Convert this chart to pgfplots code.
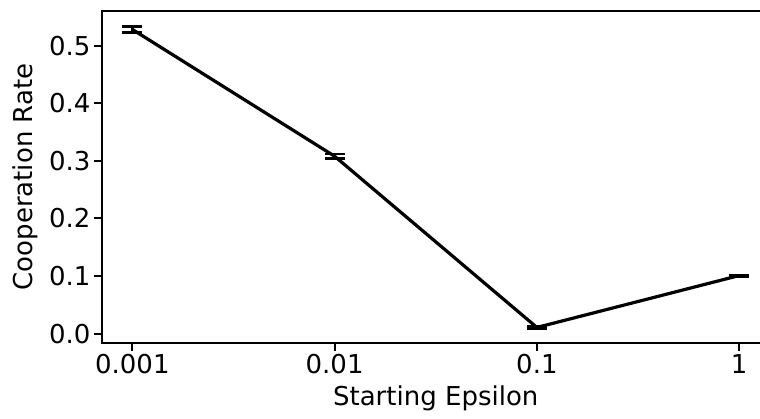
\documentclass[border=0pt]{standalone}
\usepackage{pgfplots}
\pgfplotsset{compat=1.18}
\usepackage{fontspec}
\setmainfont{DejaVu Sans}

\begin{document}
\begin{tikzpicture}
\begin{axis}[
  at={(102bp,76bp)}, anchor=south west,
  scale only axis,
  width=667.5bp, height=332bp,
  xmin=-0.15, xmax=3.15,
  ymin=-0.016, ymax=0.560,
  xtick={0,1,2,3},
  xticklabels={0.001,0.01,0.1,1},
  ytick={0,0.1,0.2,0.3,0.4,0.5},
  yticklabel style={/pgf/number format/.cd, fixed, fixed zerofill, precision=1},
  /pgf/number format/assume math mode=true,
  tick align=outside,
  xtick pos=bottom, ytick pos=left,
  major tick length=8bp,
  tick style={line width=2bp, black},
  axis line style={line width=2bp},
  ticklabel style={font=\fontsize{26bp}{30bp}\selectfont, color=black},
  label style={font=\fontsize{26bp}{30bp}\selectfont, color=black},
  xlabel={Starting Epsilon},
  ylabel={Cooperation Rate},
  xlabel style={yshift=-5bp},
  ylabel style={yshift=4bp},
  clip=false,
]
\addplot[black, line width=3.2bp, line join=round,
  error bars/.cd, y dir=both, y explicit,
  error bar style={line width=2.5bp, black},
  error mark options={rotate=90, mark size=10bp, line width=2.5bp, black}]
  table[x=x, y=y, y error=e] {
x y e
0 0.528 0.005
1 0.308 0.004
2 0.011 0.002
3 0.101 0.0012
};
\end{axis}
\pgfresetboundingbox
\path[use as bounding box] (0,0) rectangle (760bp,419bp);
\end{tikzpicture}
\end{document}
